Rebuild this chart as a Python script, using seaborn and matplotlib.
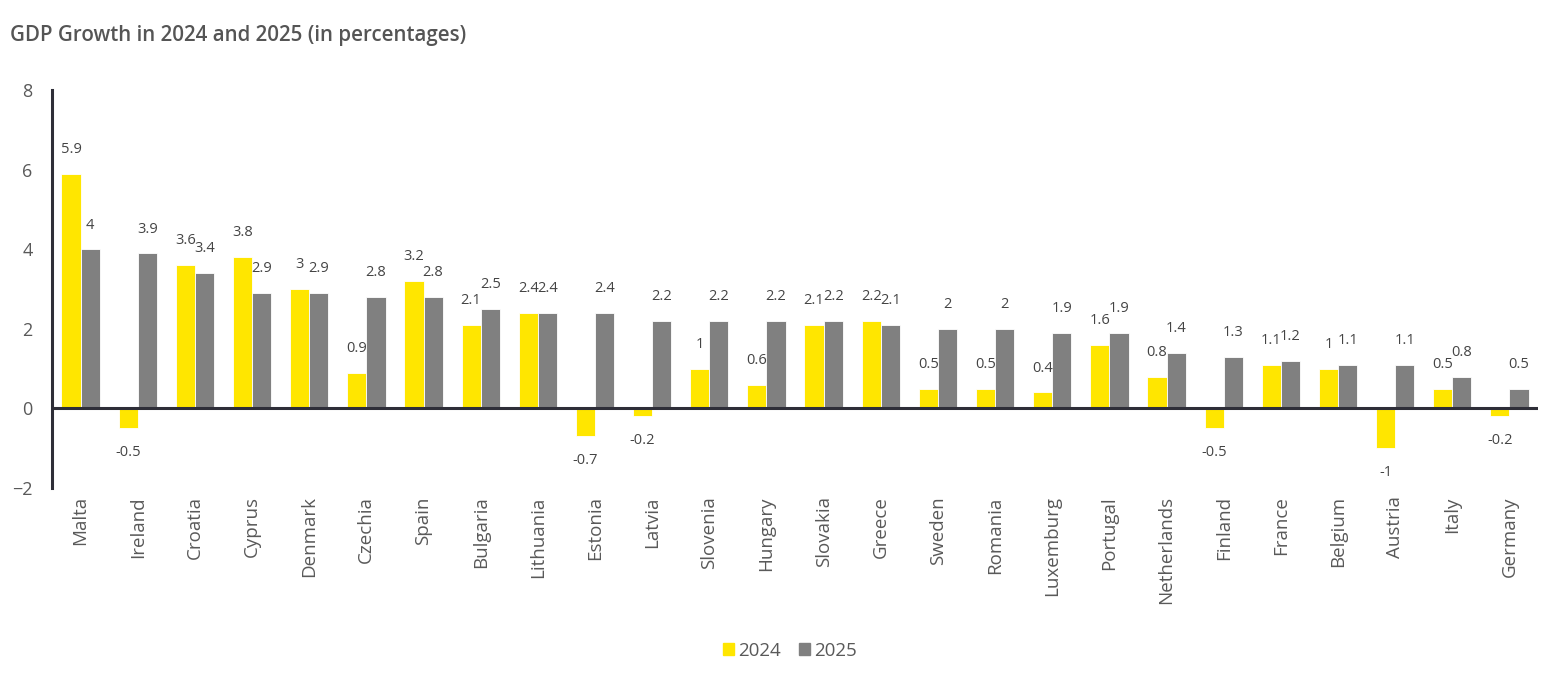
import pandas as pd
import numpy as np
import matplotlib.pyplot as plt
import seaborn as sns

# 数据
countries = ['Malta', 'Ireland', 'Croatia', 'Cyprus', 'Denmark', 'Czechia', 'Spain',
             'Bulgaria', 'Lithuania', 'Estonia', 'Latvia', 'Slovenia', 'Hungary',
             'Slovakia', 'Greece', 'Sweden', 'Romania', 'Luxemburg', 'Portugal',
             'Netherlands', 'Finland', 'France', 'Belgium', 'Austria', 'Italy', 'Germany']
gdp_2024 = [5.9, -0.5, 3.6, 3.8, 3, 0.9, 3.2, 2.1, 2.4, -0.7, -0.2, 1, 0.6,
            2.1, 2.2, 0.5, 0.5, 0.4, 1.6, 0.8, -0.5, 1.1, 1, -1, 0.5, -0.2]
gdp_2025 = [4, 3.9, 3.4, 2.9, 2.9, 2.8, 2.8, 2.5, 2.4, 2.4, 2.2, 2.2, 2.2,
            2.2, 2.1, 2, 2, 1.9, 1.9, 1.4, 1.3, 1.2, 1.1, 1.1, 0.8, 0.5]
years = ['2024', '2025']
y_ticks = [-2, 0, 2, 4, 6, 8]

df = pd.DataFrame({'Country': countries * 2,
                   'Year': [years[0]] * len(countries) + [years[1]] * len(countries),
                   'GDP': gdp_2024 + gdp_2025})

sns.set_style('white')
plt.rcParams['font.family'] = ['Open Sans', 'DejaVu Sans']
text_color = '#595959'

fig = plt.figure(figsize=(15.67, 6.78), dpi=100)
ax = fig.add_axes([0.0332, 0.2802, 0.9483, 0.5871])

sns.barplot(data=df, x='Country', y='GDP', hue='Year', order=countries,
            palette={'2024': '#FFE600', '2025': '#808080'}, width=0.67, saturation=1,
            edgecolor='white', linewidth=0.6, ax=ax, legend=False)

# 数值标签
for cont in ax.containers:
    ax.bar_label(cont, fmt='{:g}', padding=12, fontsize=10.5, color='#444444')

ax.axhline(0, color='#2e2e38', linewidth=2.2, zorder=5)
ax.set_xlim(-0.5, len(countries) - 0.5)
ax.set_ylim(-2, 8)
ax.set_yticks(y_ticks)
ax.set_xlabel('')
ax.set_ylabel('')
for s in ['top', 'right', 'bottom']:
    ax.spines[s].set_visible(False)
ax.spines['left'].set_color('#2e2e38')
ax.spines['left'].set_linewidth(2.2)
ax.tick_params(axis='y', length=0, labelsize=13, labelcolor=text_color, pad=14)
ax.tick_params(axis='x', length=0, labelsize=13.5, labelcolor=text_color, pad=6)
plt.setp(ax.get_xticklabels(), rotation=90)

fig.text(0.0064, 0.948, 'GDP Growth in 2024 and 2025 (in percentages)', fontsize=14.8,
         fontweight='semibold', color='#555555', va='center', ha='left')

handles = [plt.Rectangle((0, 0), 1, 1, color='#FFE600'),
           plt.Rectangle((0, 0), 1, 1, color='#808080')]
fig.legend(handles, years, loc='center', bbox_to_anchor=(0.504, 0.04), ncol=2,
           frameon=False, fontsize=13.5, labelcolor=text_color, handlelength=0.6,
           handleheight=0.6, handletextpad=0.2, columnspacing=1.0)

fig.savefig('out.png', dpi=100)
